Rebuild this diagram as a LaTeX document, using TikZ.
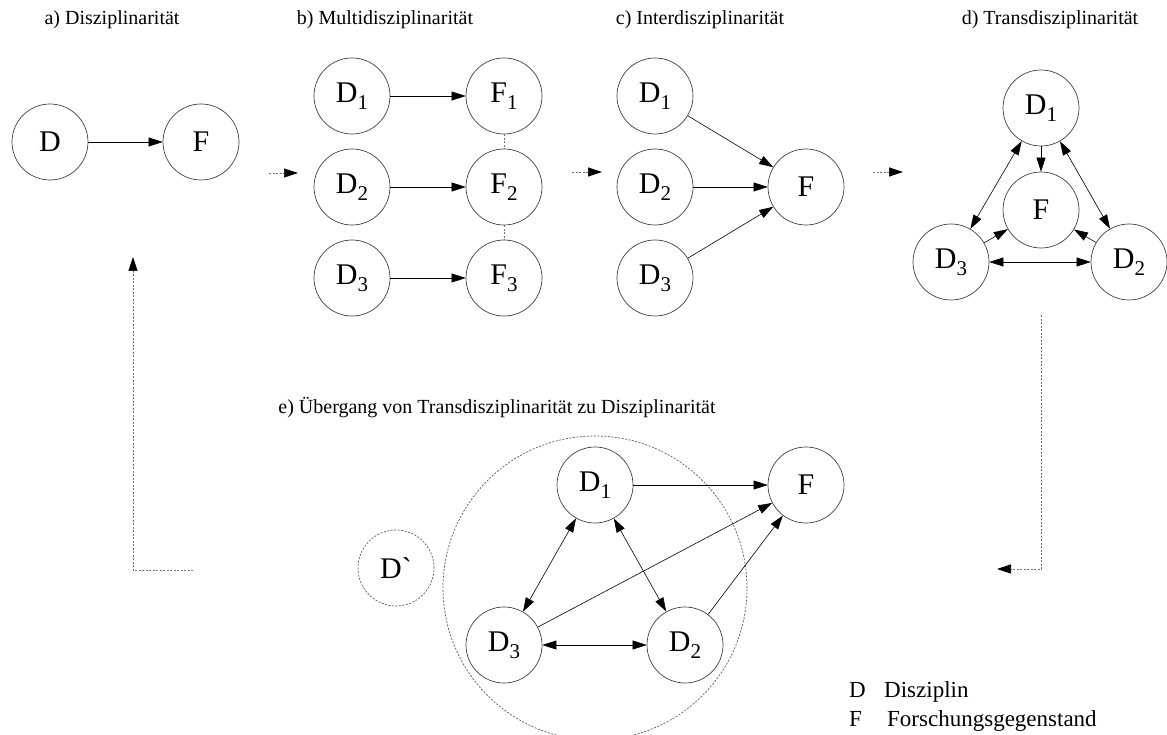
\documentclass[tikz,border=0pt]{standalone}
\usepackage{fontspec}
\setmainfont{Liberation Serif}
% same face without the TeX quote mapping, so ` stays a plain grave
\newfontfamily\plainserif{Liberation Serif}[Ligatures=TeXOff]
\usetikzlibrary{arrows.meta}
% label with a lowered index, e.g. D_1
\newcommand\idx[2]{#1\raisebox{-7pt}{\fontsize{21}{21}\selectfont #2}}
\begin{document}
\begin{tikzpicture}[x=1pt,y=-1pt,
  disc/.style={circle,draw=black!75,line width=0.7pt,minimum size=76pt,inner sep=0pt,
    font=\fontsize{30}{30}\selectfont},
  dotdisc/.style={disc,draw=black!65,dash pattern=on 2pt off 1.5pt},
  tip/.tip={Triangle[length=14pt,width=9pt,color=black]},
  link/.style={line width=0.6pt,-tip},
  both/.style={line width=0.6pt,tip-tip},
  flow/.style={draw=black!55,line width=0.7pt,dash pattern=on 2pt off 1.5pt,-tip},
  tie/.style={draw=black!55,line width=0.6pt,dash pattern=on 2pt off 1.5pt},
  title/.style={font=\fontsize{20}{24}\selectfont,inner sep=0pt},
  legend/.style={font=\fontsize{23}{26}\selectfont,inner sep=0pt,anchor=base west},
]
\useasboundingbox (0,0) rectangle (1167,735);

% ---- titles
\node[title] (ta) at (112,20) {a) Disziplinarität};
\node[title] (tb) at (385,20) {b) Multidisziplinarität};
\node[title] (tc) at (700,20) {c) Interdisziplinarität};
\node[title] (td) at (1050,20) {d) Transdisziplinarität};
\node[title] (te) at (497,408) {e) Übergang von Transdisziplinarität zu Disziplinarität};

% ---- a) discipline
\node[disc] (aD) at (50,142) {D};
\node[disc] (aF) at (201,142) {F};
\draw[link] (aD) -- (aF);

% ---- b) multidisciplinarity
\node[disc] (bD1) at (352,96)  {\idx{D}{1}};
\node[disc] (bD2) at (352,187) {\idx{D}{2}};
\node[disc] (bD3) at (352,278) {\idx{D}{3}};
\node[disc] (bF1) at (504,96)  {\idx{F}{1}};
\node[disc] (bF2) at (504,187) {\idx{F}{2}};
\node[disc] (bF3) at (504,278) {\idx{F}{3}};
\draw[link] (bD1) -- (bF1);
\draw[link] (bD2) -- (bF2);
\draw[link] (bD3) -- (bF3);
\draw[tie] (bF1) -- (bF2);
\draw[tie] (bF2) -- (bF3);

% ---- c) interdisciplinarity
\node[disc] (cD1) at (655,96)  {\idx{D}{1}};
\node[disc] (cD2) at (655,187) {\idx{D}{2}};
\node[disc] (cD3) at (655,278) {\idx{D}{3}};
\node[disc] (cF)  at (806,187) {F};
\draw[link] (cD1) -- (cF);
\draw[link] (cD2) -- (cF);
\draw[link] (cD3) -- (cF);

% ---- d) transdisciplinarity
\node[disc] (dD1) at (1041,108) {\idx{D}{1}};
\node[disc] (dF)  at (1041,210) {F};
\node[disc] (dD3) at (951,262)  {\idx{D}{3}};
\node[disc] (dD2) at (1129,262) {\idx{D}{2}};
\draw[link] (dD1) -- (dF);
\draw[link] (dD3) -- (dF);
\draw[link] (dD2) -- (dF);
\draw[both] (dD1) -- (dD3);
\draw[both] (dD1) -- (dD2);
\draw[both] (dD3) -- (dD2);

% ---- e) transition back to a discipline
\node[dotdisc,minimum size=304pt] (ring) at (595,588) {};
\node[disc] (eD1) at (595,485) {\idx{D}{1}};
\node[disc] (eF)  at (806,485) {F};
\node[disc] (eD3) at (504,645) {\idx{D}{3}};
\node[disc] (eD2) at (685,645) {\idx{D}{2}};
\node[dotdisc] (eDp) at (396,568) {\plainserif D`};
\draw[link] (eD1) -- (eF);
\draw[link] (eD3) -- (eF);
\draw[link] (eD2) -- (eF);
\draw[both] (eD1) -- (eD3);
\draw[both] (eD1) -- (eD2);
\draw[both] (eD3) -- (eD2);

% ---- stage transitions
\coordinate (ab0) at (269,173); \coordinate (ab1) at (298,173);
\coordinate (bc0) at (572,172); \coordinate (bc1) at (602,172);
\coordinate (cd0) at (873,172); \coordinate (cd1) at (903,172);
\draw[flow] (ab0) -- (ab1);
\draw[flow] (bc0) -- (bc1);
\draw[flow] (cd0) -- (cd1);
\coordinate (de0) at (1041,315); \coordinate (de1) at (997,569);
\draw[flow] (de0) |- (de1);
\coordinate (ea0) at (193,570); \coordinate (ea1) at (133,257);
\draw[flow] (ea0) -| (ea1);

% ---- legend
\node[legend] (lD)  at (849,697) {D};
\node[legend] (lDt) at (884,697) {Disziplin};
\node[legend] (lF)  at (849,726) {F};
\node[legend] (lFt) at (887,726) {Forschungsgegenstand};
\end{tikzpicture}
\end{document}
